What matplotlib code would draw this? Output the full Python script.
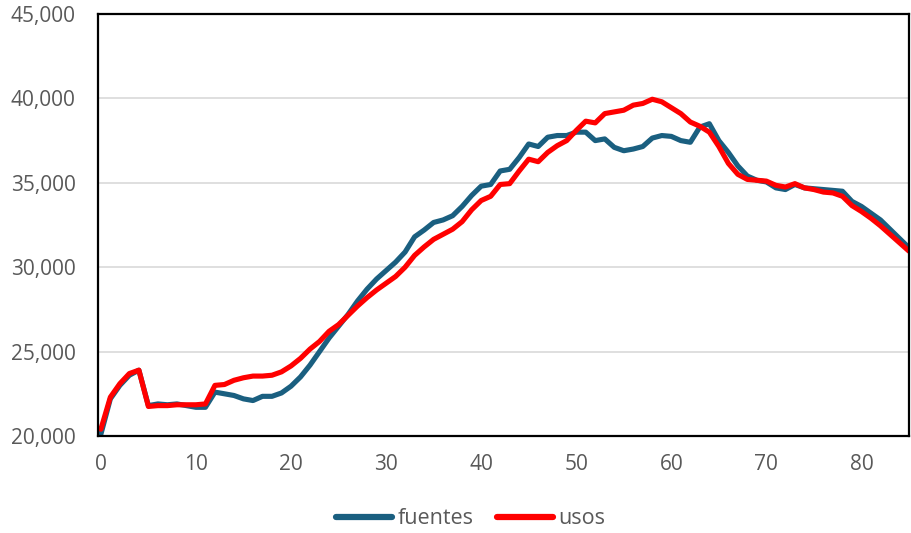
import matplotlib
matplotlib.use("Agg")
import matplotlib.pyplot as plt
from matplotlib.ticker import FuncFormatter

# series values, one per period 0..85
fuentes = [20100, 22200, 23000, 23600, 23900, 21800, 21900, 21850, 21900, 21800,
           21700, 21700, 22600, 22500, 22400, 22200, 22100, 22350, 22350, 22550,
           22950, 23500, 24200, 25000, 25800, 26500, 27200, 28000, 28700, 29300,
           29800, 30300, 30900, 31800, 32200, 32650, 32800, 33050, 33600, 34250,
           34800, 34900, 35700, 35800, 36500, 37300, 37150, 37700, 37800, 37800,
           38000, 38000, 37500, 37600, 37100, 36900, 37000, 37150, 37650, 37800,
           37750, 37500, 37400, 38300, 38500, 37500, 36800, 36000, 35400, 35150,
           35050, 34700, 34600, 34900, 34700, 34650, 34600, 34550, 34500, 33900,
           33600, 33200, 32800, 32250, 31700, 31150]
usos = [20400, 22300, 23100, 23700, 23900, 21750, 21800, 21800, 21850, 21850,
        21850, 21900, 23000, 23050, 23300, 23450, 23550, 23550, 23600, 23800,
        24150, 24600, 25150, 25600, 26200, 26600, 27150, 27700, 28200, 28650,
        29050, 29450, 30000, 30700, 31200, 31650, 31950, 32250, 32700, 33400,
        33950, 34200, 34900, 34950, 35700, 36400, 36250, 36800, 37200, 37500,
        38100, 38650, 38550, 39100, 39200, 39300, 39600, 39700, 39950, 39800,
        39450, 39100, 38600, 38350, 38000, 37150, 36150, 35500, 35200, 35150,
        35100, 34850, 34750, 34950, 34700, 34600, 34450, 34400, 34200, 33650,
        33300, 32900, 32450, 31950, 31450, 30950]
periods = list(range(len(fuentes)))

plt.rcParams['font.family'] = ['Open Sans', 'DejaVu Sans']

fig = plt.figure(figsize=(9.11, 5.33), dpi=100)
ax = fig.add_axes([98 / 911, 1 - 436 / 533, (909 - 98) / 911, (436 - 14) / 533])

ax.plot(periods, fuentes, color='#1A5F80', linewidth=3.7, label='fuentes',
        solid_joinstyle='round', solid_capstyle='round')
ax.plot(periods, usos, color='#FF0000', linewidth=3.7, label='usos',
        solid_joinstyle='round', solid_capstyle='round')

ax.set_xlim(-0.3, 85)
ax.set_ylim(20000, 45000)
ax.set_xticks(range(0, 81, 10))
ax.set_yticks(range(20000, 45001, 5000))
ax.yaxis.set_major_formatter(FuncFormatter(lambda v, p: f'{int(v):,}'))
ax.grid(axis='y', color='#D9D9D9', linewidth=1.2)
ax.set_axisbelow(True)
ax.tick_params(length=0, labelsize=15, labelcolor='#595959')
ax.tick_params(axis='y', pad=16)
ax.tick_params(axis='x', pad=13)
for s in ax.spines.values():
    s.set_color('black')
    s.set_linewidth(1.6)

leg = fig.legend(loc='center', bbox_to_anchor=(0.517, 1 - 519 / 533), ncol=2, frameon=False,
                 fontsize=15.5, labelcolor='#595959', handlelength=2.6, handletextpad=0.25,
                 columnspacing=1.1, borderpad=0)
for line in leg.get_lines():
    line.set_linewidth(4.5)
    line.set_solid_capstyle('round')

fig.savefig('out.png', dpi=100)
